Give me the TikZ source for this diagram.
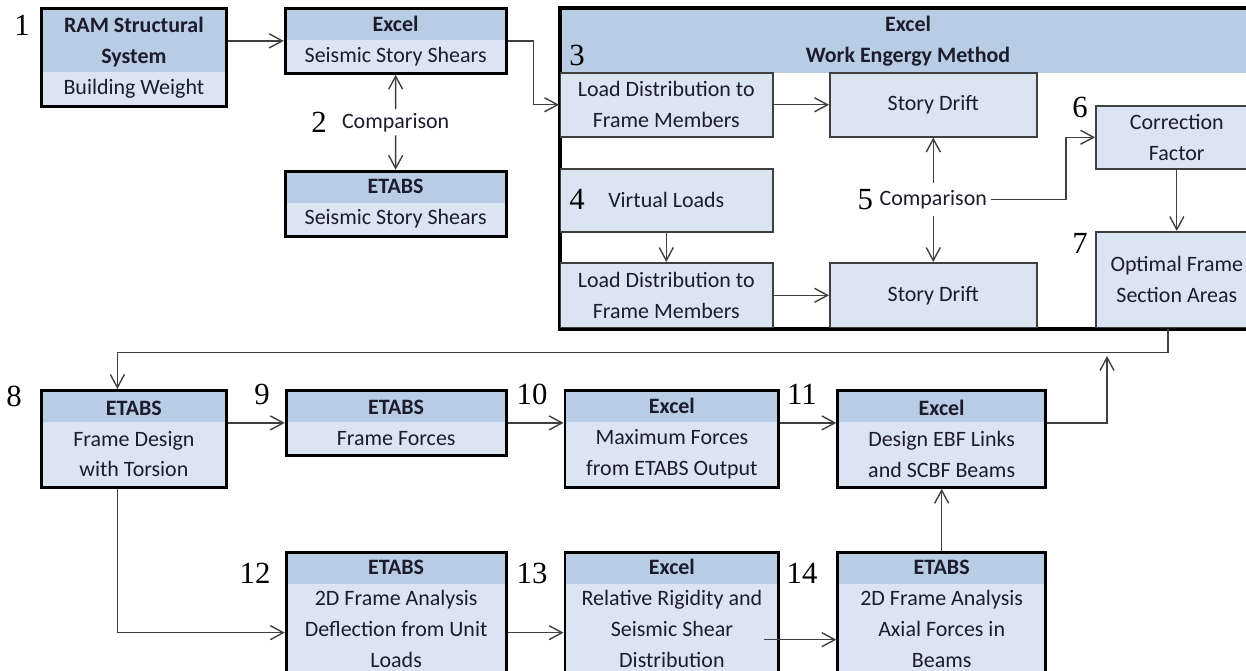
\documentclass[tikz,border=0pt]{standalone}
\usepackage{fontspec}
\setmainfont{Carlito}
\newfontfamily\numfont{Liberation Serif}
\usetikzlibrary{arrows.meta,positioning,calc}
\definecolor{hdrblue}{HTML}{B8CCE4}
\definecolor{bodyblue}{HTML}{DBE5F1}
\definecolor{inkgray}{HTML}{404040}
\definecolor{txtdark}{HTML}{1C1C2C}
\newcommand{\boxfont}{\fontsize{12.5}{17.6}\selectfont}

\begin{document}
\begin{tikzpicture}[
  x=0.02cm, y=-0.02cm,
  font=\boxfont, text=txtdark,
  tool/.style={draw=black, line width=1.6pt, fill=bodyblue, anchor=north west, align=center, inner sep=0pt,
    path picture={\fill[hdrblue] (path picture bounding box.north west) rectangle ([yshift=-#1]path picture bounding box.north east);}},
  tool/.default=0.63cm,
  inner/.style={draw=inkgray, line width=0.9pt, fill=bodyblue, anchor=north west, align=center, inner sep=0pt},
  num/.style={font=\numfont\fontsize{17.5}{20}\selectfont, text=black, inner sep=0pt},
  arrow/.style={-{Straight Barb[length=2.6mm,width=2.8mm]}, line width=0.8pt, draw=inkgray}
]
  \useasboundingbox (0,0) rectangle (1246,671);
  \clip (0,0) rectangle (1246,671);

  % top left: weight and story shears
  \node[tool=1.28cm, minimum width=3.7cm, minimum height=1.96cm] (ram) at (40,7) {\textbf{RAM Structural}\\\textbf{System}\\Building Weight};
  \node[tool, minimum width=4.42cm, minimum height=1.3cm, right=1.12cm of ram.north east, anchor=north west] (exshear) {\textbf{Excel}\\Seismic Story Shears};
  \node[tool, minimum width=4.42cm, minimum height=1.3cm, below=1.9cm of exshear] (etshear) {\textbf{ETABS}\\Seismic Story Shears};
  \node[inner sep=2pt] (cmp1) at ($(exshear.south)!0.5!(etshear.north)$) {Comparison};
  \node[num, left=0.22cm of cmp1] (n2) {2};

  % work energy block
  \node[tool=1.3cm, fill=white, minimum width=13.96cm, minimum height=6.4cm] (wem) at (559,7) {};
  \node[font=\boxfont\bfseries, align=center] (wemhead) at (908,41) {Excel\\Work Engergy Method};
  \node[inner, minimum width=4.26cm, minimum height=1.28cm] (ldist1) at (559,72) {Load Distribution to\\Frame Members};
  \node[inner, minimum width=4.14cm, minimum height=1.28cm] (drift1) at (829,72) {Story Drift};
  \node[inner, minimum width=4.26cm, minimum height=1.26cm] (virt) at (559,168) {Virtual Loads};
  \node[inner, minimum width=4.26cm, minimum height=1.3cm] (ldist2) at (559,262) {Load Distribution to\\Frame Members};
  \node[inner, minimum width=4.14cm, minimum height=1.3cm] (drift2) at (829,262) {Story Drift};
  \node[inner, minimum width=3.24cm, minimum height=1.26cm] (corr) at (1095,105) {Correction\\Factor};
  \node[inner, minimum width=3.24cm, minimum height=1.92cm] (optim) at (1095,231) {Optimal Frame\\Section Areas};
  \draw[line width=1.6pt] (wem.north west) rectangle (wem.south east);
  \node[inner sep=2pt, minimum height=0.64cm] (cmp2) at ($(drift1.south)!0.5!(drift2.north)$) {Comparison};
  \node[num, left=0.05cm of cmp2] (n5) {5};

  % design rows
  \node[tool, minimum width=3.7cm, minimum height=1.94cm] (frdes) at (40,389) {\textbf{ETABS}\\Frame Design\\with Torsion};
  \node[tool, minimum width=4.4cm, minimum height=1.3cm, right=1.14cm of frdes.north east, anchor=north west] (frfor) {\textbf{ETABS}\\Frame Forces};
  \node[tool, minimum width=4.28cm, minimum height=1.94cm, right=1.12cm of frfor.north east, anchor=north west] (maxf) {\textbf{Excel}\\Maximum Forces\\from ETABS Output};
  \node[tool, minimum width=4.16cm, minimum height=1.94cm, right=1.12cm of maxf.north east, anchor=north west] (ebf) {\textbf{Excel}\\Design EBF Links\\and SCBF Beams};
  \node[tool, minimum width=4.4cm, minimum height=2.46cm, below=1.88cm of frfor] (fa2d) {\textbf{ETABS}\\2D Frame Analysis\\Deflection from Unit\\Loads};
  \node[tool, minimum width=4.28cm, minimum height=2.46cm, below=1.24cm of maxf] (rigid) {\textbf{Excel}\\Relative Rigidity and\\Seismic Shear\\Distribution};
  \node[tool, minimum width=4.16cm, minimum height=2.46cm, below=1.24cm of ebf] (axial) {\textbf{ETABS}\\2D Frame Analysis\\Axial Forces in\\Beams};

  \foreach \lbl/\nx/\ny in {1/22/25, 3/577/55, 4/577/199, 6/1080/107, 7/1080/243, 8/14/396, 9/262/394, 10/532/394, 11/802/394, 12/255/573, 13/532/573, 14/802/573}
    \node[num] (n\lbl) at (\nx,\ny) {\lbl};

  \draw[arrow] (ram.east |- exshear.west) -- (exshear.west);
  \draw[arrow] (cmp1.north) -- (exshear.south);
  \draw[arrow] (cmp1.south) -- (etshear.north);
  \draw[arrow] (exshear.east) -- ++(26,0) |- (ldist1.west);
  \draw[arrow] (ldist1.east) -- (drift1.west);
  \draw[arrow] (virt.south) -- (ldist2.north);
  \draw[arrow] (ldist2.east) -- (drift2.west);
  \draw[arrow] (cmp2.north) -- (drift1.south);
  \draw[arrow] (cmp2.south) -- (drift2.north);
  \draw[arrow] (cmp2.east) -- ++(75,0) |- (corr.west);
  \draw[arrow] (corr.south) -- (optim.north);
  \coordinate (optout) at ([xshift=-0.18cm]optim.south);
  \draw[arrow] (optout) -- ++(0,24) -| ([xshift=-0.33cm]frdes.north);
  \coordinate (busin) at (1107,356);
  \draw[arrow] (ebf.east |- frfor.east) -| (busin);
  \draw[arrow] (frdes.east |- frfor.west) -- (frfor.west);
  \draw[arrow] (frfor.east) -- (maxf.west |- frfor.east);
  \draw[arrow] (maxf.east |- frfor.east) -- (ebf.west |- frfor.east);
  \draw[arrow] ([xshift=-0.33cm]frdes.south) |- ([yshift=-0.38cm]fa2d.west);
  \draw[arrow] ([yshift=-0.38cm]fa2d.east) -- ([yshift=-0.38cm]rigid.west);
  \draw[arrow] ([xshift=-0.32cm,yshift=-0.52cm]rigid.east) -- ([yshift=-0.52cm]axial.west);
  \draw[arrow] (axial.north) -- (ebf.south);
\end{tikzpicture}
\end{document}
